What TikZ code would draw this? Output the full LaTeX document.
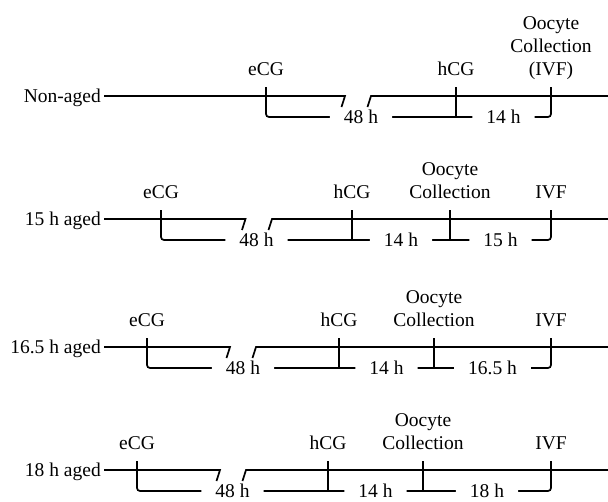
\documentclass[tikz,border=0pt]{standalone}
\usepackage{fontspec}
\setmainfont{Liberation Serif}

\begin{document}
\begin{tikzpicture}[x=1pt, y=-1pt, font=\fontsize{19.5}{23}\selectfont,
      timeline/.style={line width=1.7pt},
      bracket/.style={line width=1.7pt, rounded corners=3pt},
      event/.style={anchor=south, inner sep=0pt, text depth=0pt, align=center},
      span/.style={fill=white, inner xsep=14pt, inner ysep=1pt, anchor=base, yshift=-6.5pt},
      group/.style={anchor=base east, inner sep=0pt, xshift=-3pt, yshift=-6.5pt}]

   \useasboundingbox (0,0) rectangle (608,501);

   % non-aged
   \coordinate (a1) at (104,96);
   \coordinate (z1) at (608,96);
   \coordinate (bl1) at (345,96);
   \coordinate (br1) at (371,96);
   \coordinate (e1) at (266,96);
   \coordinate (h1) at (456,96);
   \coordinate (v1) at (551,96);
   \node[group] (g1) at (a1) {Non-aged};
   \draw[timeline] (a1) -- (bl1) -- ++(-3.5,11);
   \draw[timeline] (br1) ++(-3.5,11) -- (br1) -- (z1);
   \draw[bracket] ([yshift=9pt]e1) -- ([yshift=-21pt]e1)
      -- node[span] (p1) {48 h} ([yshift=-21pt]h1)
      -- node[span] (q1) {14 h} ([yshift=-21pt]v1) -- ([yshift=9pt]v1);
   \draw[timeline] ([yshift=9pt]h1) -- ([yshift=-21pt]h1);
   \node[event] (eCG1) at ([yshift=20pt]e1) {eCG};
   \node[event] (hCG1) at ([yshift=20pt]h1) {hCG};
   \node[event] (ivf1) at ([yshift=20pt]v1) {Oocyte\\Collection\\(IVF)};

   % aged
   \foreach \r/\y/\name/\e/\bl/\br/\h/\c/\last in {
         2/219/15 h aged/161/245.5/272/352/450/15 h,
         3/347/16.5 h aged/147/230/256/339/434/16.5 h,
         4/470/18 h aged/137/220/246/328/423/18 h}
   {
      \coordinate (a\r) at (104,\y);
      \coordinate (z\r) at (608,\y);
      \coordinate (bl\r) at (\bl,\y);
      \coordinate (br\r) at (\br,\y);
      \coordinate (e\r) at (\e,\y);
      \coordinate (h\r) at (\h,\y);
      \coordinate (c\r) at (\c,\y);
      \coordinate (v\r) at (551,\y);
      \node[group] (g\r) at (a\r) {\name};
      \draw[timeline] (a\r) -- (bl\r) -- ++(-3.5,11);
      \draw[timeline] (br\r) ++(-3.5,11) -- (br\r) -- (z\r);
      \draw[bracket] ([yshift=9pt]e\r) -- ([yshift=-21pt]e\r)
         -- node[span] (p\r) {48 h} ([yshift=-21pt]h\r)
         -- node[span] (q\r) {14 h} ([yshift=-21pt]c\r)
         -- node[span] (w\r) {\last} ([yshift=-21pt]v\r) -- ([yshift=9pt]v\r);
      \draw[timeline] ([yshift=9pt]h\r) -- ([yshift=-21pt]h\r);
      \draw[timeline] ([yshift=9pt]c\r) -- ([yshift=-21pt]c\r);
      \node[event] (eCG\r) at ([yshift=20pt]e\r) {eCG};
      \node[event] (hCG\r) at ([yshift=20pt]h\r) {hCG};
      \node[event] (oc\r) at ([yshift=20pt]c\r) {Oocyte\\Collection};
      \node[event] (ivf\r) at ([yshift=20pt]v\r) {IVF};
   }
\end{tikzpicture}
\end{document}
